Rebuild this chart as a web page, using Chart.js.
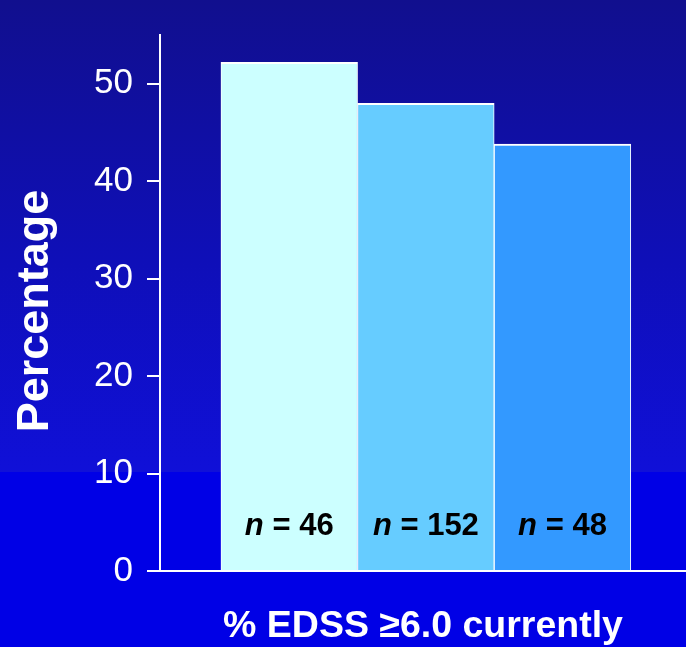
<!DOCTYPE html>
<html>
<head>
<meta charset="utf-8">
<script src="https://cdn.jsdelivr.net/npm/chart.js@4/dist/chart.umd.min.js"></script>
<style>
  html, body { margin: 0; padding: 0; background: #0000e6; }
  #wrap { width: 686px; height: 647px; position: relative; }
</style>
</head>
<body>
<div id="wrap"><canvas id="c"></canvas></div>
<script>
// Share of patients with EDSS >= 6.0, one bar per group
const groupPositions = [1, 2, 3];
const groupSizes = [46, 152, 48];
const percentEdss6 = [52.2, 48.0, 43.8];
const barColors = ['#ccffff', '#66ccff', '#3399ff'];
const yTickValues = [0, 10, 20, 30, 40, 50];
const yTitle = 'Percentage';
const xTitle = '% EDSS ≥6.0 currently';

const FONT = '"Liberation Sans", Arial, Helvetica, sans-serif';
const X_MIN = 0.054, X_MAX = 3.904;

// Slide-style background: deep blue fading lighter, then a flat bright band at the bottom
const backgroundPlugin = {
  id: 'slideBackground',
  beforeDraw(chart) {
    const { ctx, width, height } = chart;
    const split = 472;
    ctx.save();
    const g = ctx.createLinearGradient(0, 0, 0, split);
    g.addColorStop(0, '#110f8e');
    g.addColorStop(0.55, '#0f0fb8');
    g.addColorStop(1, '#1010d8');
    ctx.fillStyle = g;
    ctx.fillRect(0, 0, width, split);
    ctx.fillStyle = '#0000e6';
    ctx.fillRect(0, split, width, height - split);
    ctx.restore();
  }
};

// Rotated y-axis title, sitting a little below the middle of the axis
const yTitlePlugin = {
  id: 'yTitle',
  afterDraw(chart) {
    const { ctx, chartArea } = chart;
    ctx.save();
    ctx.translate(35.5, (chartArea.top + chartArea.bottom) / 2 + 8);
    ctx.rotate(-Math.PI / 2);
    ctx.fillStyle = '#ffffff';
    ctx.font = 'bold 45px ' + FONT;
    ctx.textAlign = 'center';
    ctx.textBaseline = 'middle';
    ctx.fillText(yTitle, 0, 0);
    ctx.restore();
  }
};

// "n = …" label inside each bar, with an italic n
const groupLabelPlugin = {
  id: 'groupLabels',
  afterDatasetsDraw(chart) {
    const { ctx, chartArea } = chart;
    const meta = chart.getDatasetMeta(0);
    const baseline = chartArea.bottom - 36;
    ctx.save();
    ctx.fillStyle = '#000000';
    ctx.textBaseline = 'alphabetic';
    ctx.textAlign = 'left';
    meta.data.forEach((bar, i) => {
      const italicFont = 'italic bold 31px ' + FONT;
      const boldFont = 'bold 31px ' + FONT;
      const rest = ' = ' + groupSizes[i];
      ctx.font = italicFont;
      const w1 = ctx.measureText('n').width;
      ctx.font = boldFont;
      const w2 = ctx.measureText(rest).width;
      const x0 = bar.x - (w1 + w2) / 2;
      ctx.font = italicFont;
      ctx.fillText('n', x0, baseline);
      ctx.font = boldFont;
      ctx.fillText(rest, x0 + w1, baseline);
    });
    ctx.restore();
  }
};

new Chart(document.getElementById('c'), {
  type: 'bar',
  data: {
    datasets: [{
      data: groupPositions.map((x, i) => ({ x: x, y: percentEdss6[i] })),
      backgroundColor: barColors,
      borderColor: '#ffffff',
      borderWidth: { top: 2, left: 1, right: 1, bottom: 0 },
      borderSkipped: false,
      barPercentage: 1,
      categoryPercentage: 1
    }]
  },
  options: {
    responsive: true,
    maintainAspectRatio: false,
    animation: false,
    layout: { padding: { top: 34, right: 0, left: 0, bottom: 0 } },
    plugins: {
      legend: { display: false },
      tooltip: { enabled: false }
    },
    scales: {
      x: {
        type: 'linear',
        min: X_MIN,
        max: X_MAX,
        offset: false,
        bounds: 'data',
        afterDataLimits(scale) { scale.min = X_MIN; scale.max = X_MAX; },
        afterBuildTicks(scale) {
          // one tick per group so the bars fill their whole slot
          scale.ticks = groupPositions.map(v => ({ value: v }));
          scale.min = X_MIN; scale.max = X_MAX;
        },
        ticks: { display: false },
        grid: { display: false, offset: false },
        border: { display: true, color: '#ffffff', width: 2 },
        title: {
          display: true,
          text: xTitle,
          color: '#ffffff',
          font: { family: FONT, size: 37.5, weight: 'bold', lineHeight: 1 },
          padding: { top: 0, bottom: 2 }
        },
        afterFit(scale) { scale.height = 76; }
      },
      y: {
        min: 0,
        max: 55,
        ticks: {
          stepSize: 10,
          color: '#ffffff',
          padding: 14,
          font: { family: FONT, size: 35 }
        },
        afterBuildTicks(scale) {
          scale.ticks = yTickValues.map(v => ({ value: v }));
        },
        grid: {
          drawOnChartArea: false,
          drawTicks: true,
          tickLength: 13,
          color: '#ffffff',
          lineWidth: 2
        },
        border: { display: true, color: '#ffffff', width: 2 },
        title: { display: false },
        afterFit(scale) { scale.width = 160; }
      }
    }
  },
  plugins: [backgroundPlugin, groupLabelPlugin, yTitlePlugin]
});
</script>
</body>
</html>
